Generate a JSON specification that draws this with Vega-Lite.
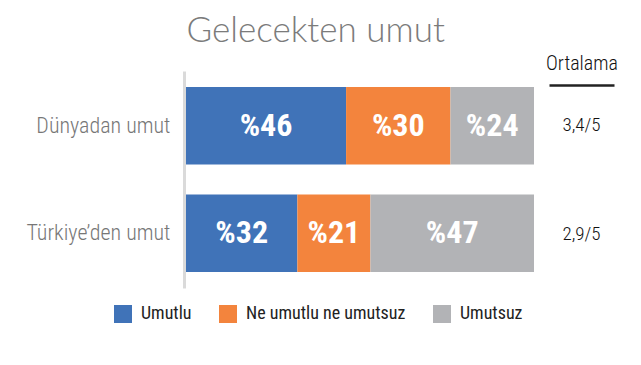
{
  "$schema": "https://vega.github.io/schema/vega-lite/v6.json",
  "background": "white",
  "padding": {"left": 25, "top": 14, "right": 0, "bottom": 0},
  "title": {
    "text": "Gelecekten umut",
    "font": "Lato",
    "fontWeight": 300,
    "fontSize": 35,
    "color": "#7b7b7b",
    "anchor": "middle",
    "dx": -6,
    "offset": 4
  },
  "datasets": {
    "bars": [
      {"row": "Dünyadan umut", "cat": "Umutlu", "sira": 1, "pct": 46, "label": "%46"},
      {"row": "Dünyadan umut", "cat": "Ne umutlu ne umutsuz", "sira": 2, "pct": 30, "label": "%30"},
      {"row": "Dünyadan umut", "cat": "Umutsuz", "sira": 3, "pct": 24, "label": "%24"},
      {"row": "Türkiye’den umut", "cat": "Umutlu", "sira": 1, "pct": 32, "label": "%32"},
      {"row": "Türkiye’den umut", "cat": "Ne umutlu ne umutsuz", "sira": 2, "pct": 21, "label": "%21"},
      {"row": "Türkiye’den umut", "cat": "Umutsuz", "sira": 3, "pct": 47, "label": "%47"}
    ],
    "avg": [
      {"row": "Dünyadan umut", "ort": "3,4/5"},
      {"row": "Türkiye’den umut", "ort": "2,9/5"}
    ]
  },
  "spacing": 11,
  "hconcat": [
    {
      "width": 348,
      "height": 217,
      "data": {"name": "bars"},
      "transform": [
        {"stack": "pct", "groupby": ["row"], "sort": [{"field": "sira", "order": "ascending"}], "as": ["p0", "p1"]},
        {"calculate": "(datum.p0 + datum.p1) / 2", "as": "mid"}
      ],
      "encoding": {
        "y": {
          "field": "row",
          "type": "nominal",
          "sort": ["Dünyadan umut", "Türkiye’den umut"],
          "scale": {"paddingInner": 0.28, "paddingOuter": 0.15},
          "axis": {
            "title": null,
            "ticks": false,
            "domain": true,
            "domainColor": "#dadada",
            "domainWidth": 3,
            "offset": 2,
            "labelFont": "Roboto Condensed",
            "labelFontWeight": 300,
            "labelFontSize": 22,
            "labelColor": "#777777",
            "labelPadding": 14,
            "labelLimit": 300
          }
        }
      },
      "layer": [
        {
          "mark": {"type": "bar"},
          "encoding": {
            "x": {"field": "p0", "type": "quantitative", "scale": {"domain": [0, 100], "nice": false}, "axis": null},
            "x2": {"field": "p1"},
            "color": {
              "field": "cat",
              "type": "nominal",
              "scale": {
                "domain": ["Umutlu", "Ne umutlu ne umutsuz", "Umutsuz"],
                "range": ["#4073b8", "#f3843d", "#b2b3b6"]
              },
              "legend": {
                "title": null,
                "orient": "none",
                "direction": "horizontal",
                "legendX": -72,
                "legendY": 234,
                "symbolType": "square",
                "symbolSize": 324,
                "symbolStrokeWidth": 0,
                "symbolOpacity": 1,
                "labelFont": "Roboto Condensed",
                "labelFontSize": 18,
                "labelColor": "#222222",
                "labelOffset": 9,
                "columnPadding": 27,
                "labelLimit": 300
              }
            }
          }
        },
        {
          "mark": {"type": "text", "color": "white", "fontWeight": "bold", "fontSize": 32, "font": "Roboto Condensed", "baseline": "middle", "align": "center"},
          "encoding": {
            "x": {"field": "mid", "type": "quantitative"},
            "text": {"field": "label"}
          }
        }
      ]
    },
    {
      "width": 65,
      "height": 217,
      "data": {"name": "avg"},
      "mark": {"type": "text", "font": "Roboto Condensed", "fontWeight": 300, "fontSize": 19, "color": "#111111", "baseline": "middle"},
      "encoding": {
        "y": {
          "field": "row",
          "type": "nominal",
          "sort": ["Dünyadan umut", "Türkiye’den umut"],
          "scale": {"paddingInner": 0.28, "paddingOuter": 0.15},
          "axis": null
        },
        "x": {
          "datum": 1,
          "type": "quantitative",
          "scale": {"domain": [0, 2]},
          "axis": {
            "orient": "top",
            "title": "Ortalama",
            "titleFont": "Roboto Condensed",
            "titleFontSize": 20,
            "titleFontWeight": 300,
            "titleColor": "#111111",
            "titlePadding": 12,
            "labels": false,
            "ticks": false,
            "grid": false,
            "domainColor": "#222222",
            "domainWidth": 2.5,
            "offset": -14
          }
        },
        "text": {"field": "ort"}
      }
    }
  ],
  "config": {"view": {"stroke": null}}
}
